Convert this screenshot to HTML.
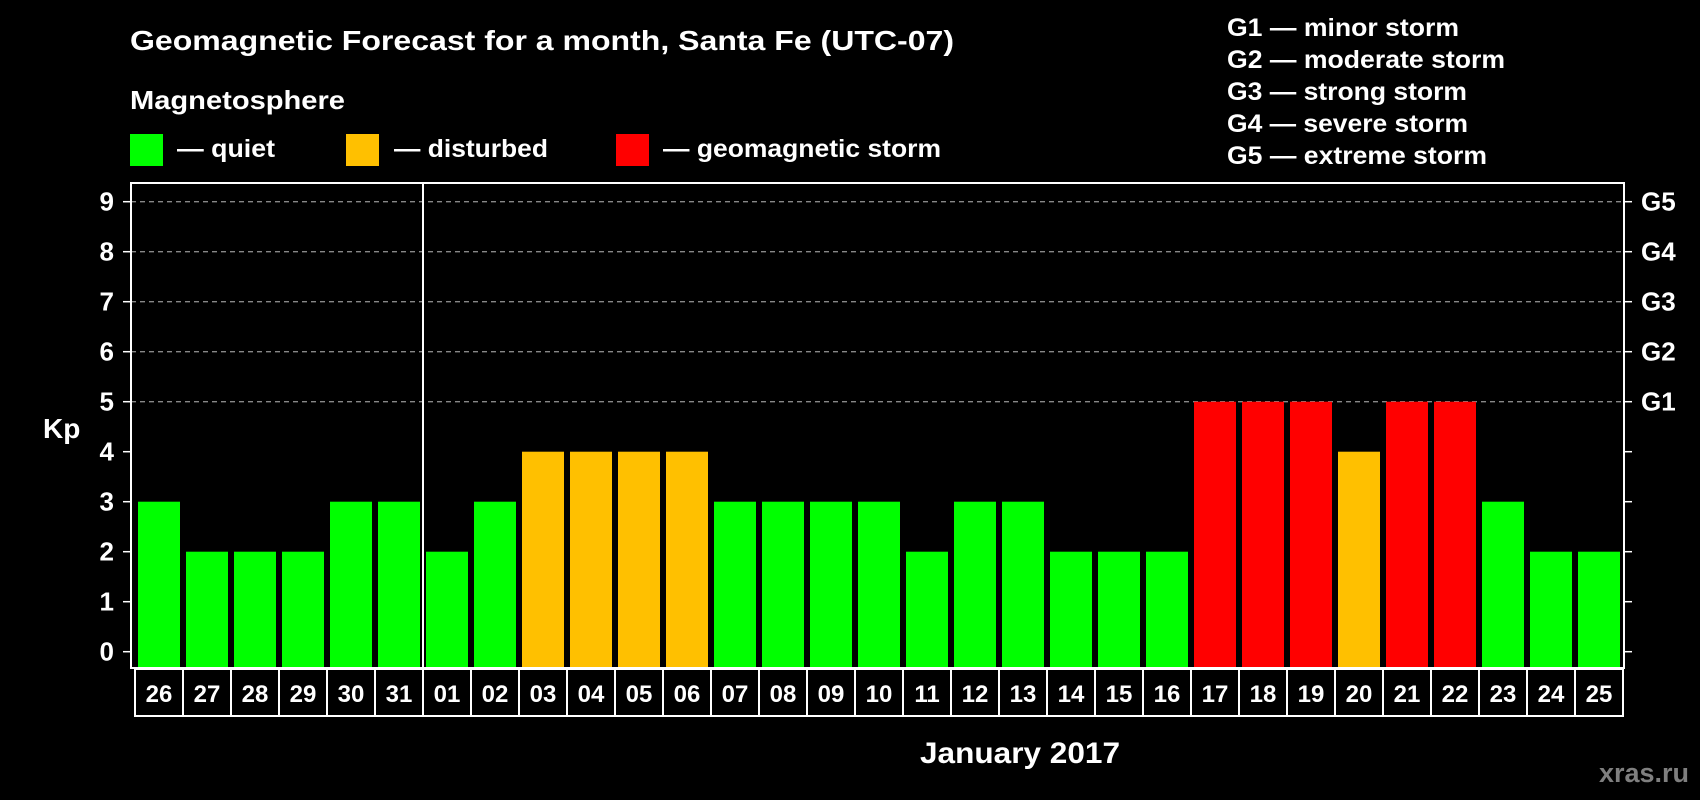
<!DOCTYPE html>
<html><head><meta charset="utf-8"><style>
html,body{margin:0;padding:0;background:#000;width:1700px;height:800px;overflow:hidden}
svg{display:block;font-family:"Liberation Sans",Arial,sans-serif;font-weight:bold}
</style></head><body>
<svg id="chart" width="1700" height="800" viewBox="0 0 1700 800">
<rect width="1700" height="800" fill="#000"/>
<text x="130" y="50" fill="#fff" font-size="28" textLength="824" lengthAdjust="spacingAndGlyphs">Geomagnetic Forecast for a month, Santa Fe (UTC-07)</text>
<text x="130" y="109" fill="#fff" font-size="26" textLength="215" lengthAdjust="spacingAndGlyphs">Magnetosphere</text>
<g><rect x="130" y="134" width="33" height="32" fill="#00ff00"/><text x="177" y="157" fill="#fff" font-size="25" textLength="98" lengthAdjust="spacingAndGlyphs">— quiet</text></g>
<g><rect x="346" y="134" width="33" height="32" fill="#ffc000"/><text x="394" y="157" fill="#fff" font-size="25" textLength="154" lengthAdjust="spacingAndGlyphs">— disturbed</text></g>
<g><rect x="616" y="134" width="33" height="32" fill="#ff0000"/><text x="663" y="157" fill="#fff" font-size="25" textLength="278" lengthAdjust="spacingAndGlyphs">— geomagnetic storm</text></g>
<g fill="#fff" font-size="25">
<text x="1227" y="36" textLength="232" lengthAdjust="spacingAndGlyphs">G1 — minor storm</text>
<text x="1227" y="68" textLength="278" lengthAdjust="spacingAndGlyphs">G2 — moderate storm</text>
<text x="1227" y="100" textLength="240" lengthAdjust="spacingAndGlyphs">G3 — strong storm</text>
<text x="1227" y="132" textLength="241" lengthAdjust="spacingAndGlyphs">G4 — severe storm</text>
<text x="1227" y="164" textLength="260" lengthAdjust="spacingAndGlyphs">G5 — extreme storm</text>
</g>
<text x="43" y="438" fill="#fff" font-size="28">Kp</text>
<text x="1020" y="763" fill="#fff" font-size="30" text-anchor="middle" textLength="200" lengthAdjust="spacingAndGlyphs">January 2017</text>
<text x="1689" y="782" fill="#7f7f7f" font-size="27" text-anchor="end">xras.ru</text>
<g id="grid"></g><g id="bars"></g><g id="axes"></g><g id="xl"></g>
</svg>
<script>
const days=["26","27","28","29","30","31","01","02","03","04","05","06","07","08","09","10","11","12","13","14","15","16","17","18","19","20","21","22","23","24","25"];
const kpValues=[3,2,2,2,3,3,2,3,4,4,4,4,3,3,3,3,2,3,3,2,2,2,5,5,5,4,5,5,3,2,2];
const yTicks=[0,1,2,3,4,5,6,7,8,9];
const gLabels={5:"G1",6:"G2",7:"G3",8:"G4",9:"G5"};
const NS="http://www.w3.org/2000/svg";
const L=131,R=1624,T=183,B=668,x0=159,pitch=48,bw=42;
const y=v=>651.7-v*50;
const x=i=>x0+i*pitch;
function mk(t,a,p){const e=document.createElementNS(NS,t);for(const k in a)e.setAttribute(k,a[k]);p.appendChild(e);return e;}
const grid=document.getElementById('grid'),bars=document.getElementById('bars'),axes=document.getElementById('axes'),xl=document.getElementById('xl');
yTicks.forEach(v=>{
 if(v>=5){const g=mk('line',{x1:L,x2:R,y1:y(v),y2:y(v),stroke:'#888','stroke-width':1.3,'stroke-dasharray':'5,4'},grid);
 
 }
 const t1=mk('line',{x1:L-8,x2:L,y1:y(v),y2:y(v),stroke:'#fff','stroke-width':1.5},axes);
 
 
 const t2=mk('line',{x1:R,x2:R+8,y1:y(v),y2:y(v),stroke:'#fff','stroke-width':1.5},axes);
 
 
 const tl=mk('text',{x:114,y:y(v)+9,fill:'#fff','font-size':26,'text-anchor':'end'},axes);tl.textContent=v;
 
 
 if(gLabels[v]){const gl=mk('text',{x:1641,y:y(v)+9,fill:'#fff','font-size':26},axes);gl.textContent=gLabels[v];
 
 }
});
kpValues.forEach((v,i)=>{
 const c=v>=5?'#ff0000':v>=4?'#ffc000':'#00ff00';
 const r=mk('rect',{x:x(i)-bw/2,y:y(v),width:bw,height:B-y(v),fill:c},bars);
 
 
 const cell=mk('rect',{x:x(i)-24,y:669,width:48,height:47,fill:'none',stroke:'#fff','stroke-width':2},xl);
 
 
 const t=mk('text',{x:x(i),y:702,fill:'#fff','font-size':24,'text-anchor':'middle'},xl);t.textContent=days[i];
 
 
});
const frame=mk('rect',{x:L,y:T,width:R-L,height:B-T,fill:'none',stroke:'#fff','stroke-width':2},axes);


const sep=mk('line',{x1:423,x2:423,y1:T,y2:716,stroke:'#fff','stroke-width':2},axes);


</script>
</body></html>
